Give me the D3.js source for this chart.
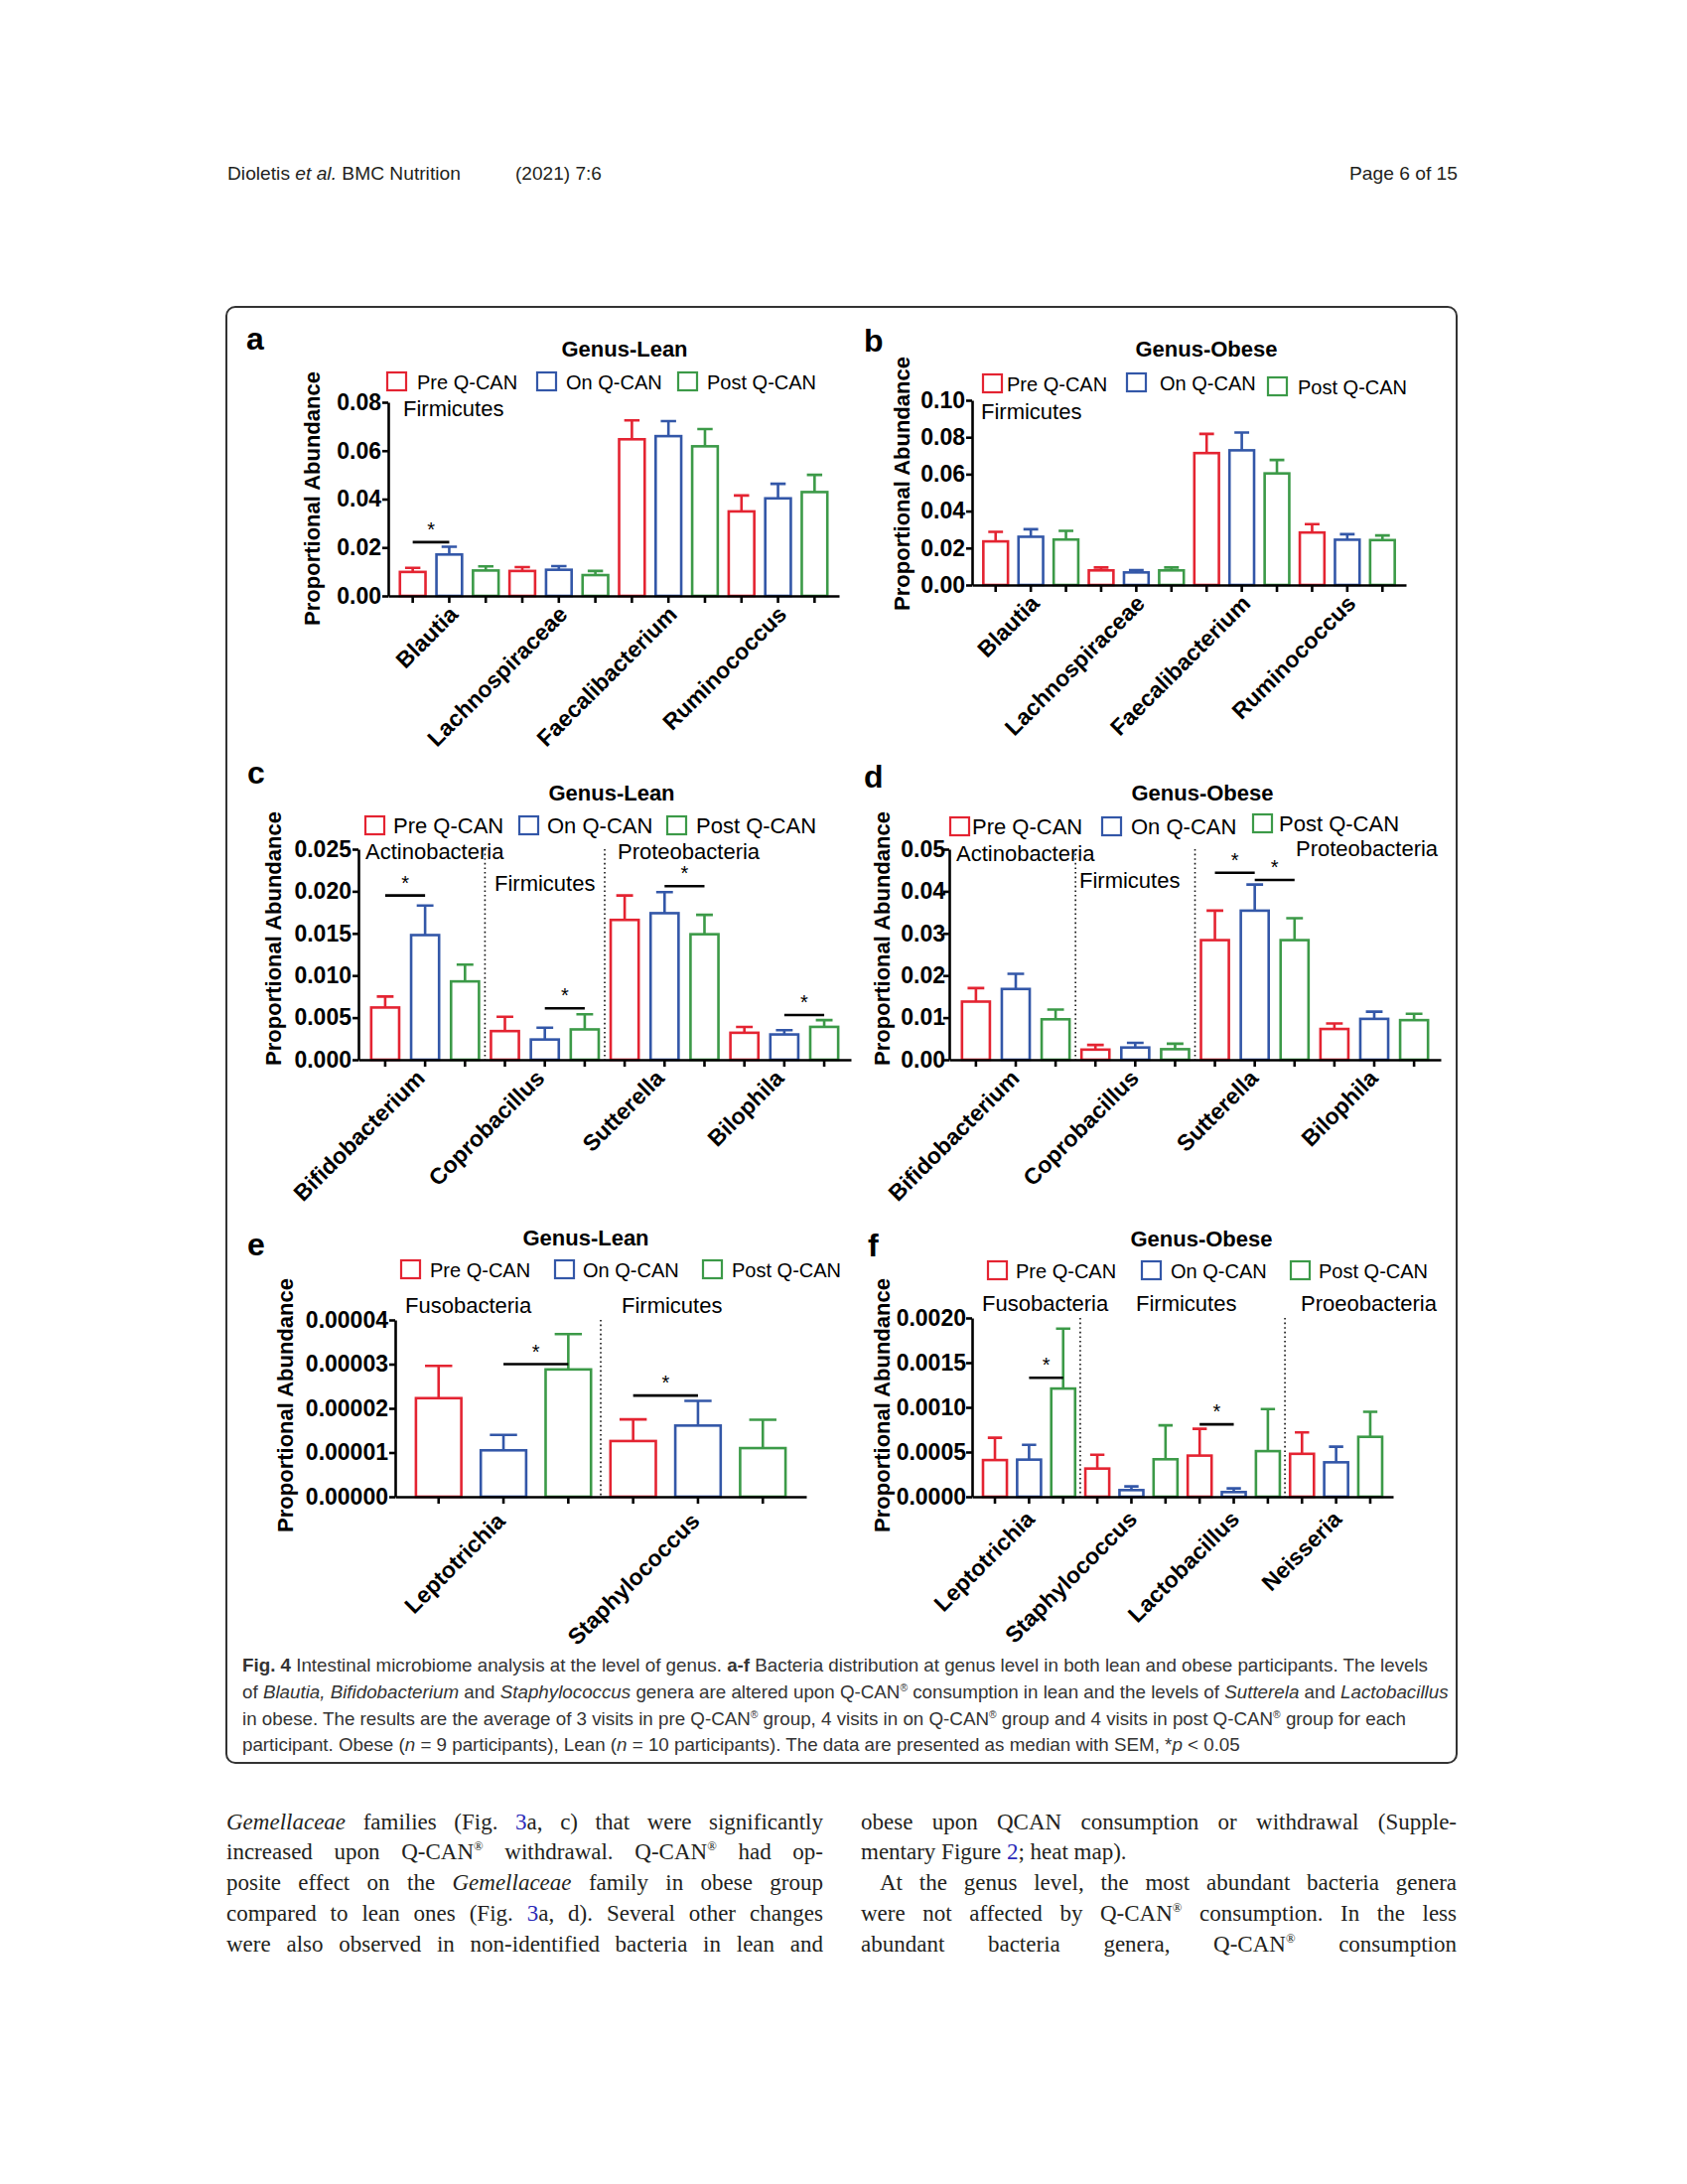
<!DOCTYPE html>
<html>
<head>
<meta charset="utf-8">
<style>
body { margin: 0; background: #fff; }
svg { display: block; }
text { font-family: "Liberation Sans", Arial, sans-serif; }
</style>
<script src="https://d3js.org/d3.v7.min.js"></script>
</head>
<body>
<svg id="page" width="1699" height="2199"></svg>
<script>
const series = ["Pre Q-CAN", "On Q-CAN", "Post Q-CAN"];
const seriesColors = ["#e42432", "#3357a8", "#3c9a48"];

// a - lean, Firmicutes
const aGenera = ["Blautia", "Lachnospiraceae", "Faecalibacterium", "Ruminococcus"];
const aPhylum = ["Firmicutes", "Firmicutes", "Firmicutes", "Firmicutes"];
const aMedian = [[0.0099, 0.0171, 0.0105], [0.0103, 0.0108, 0.0086], [0.0647, 0.0660, 0.0618], [0.0349, 0.0403, 0.0429]];
const aSem = [[0.0017, 0.0032, 0.0017], [0.0016, 0.0015, 0.0017], [0.0078, 0.0062, 0.0071], [0.0066, 0.0060, 0.0071]];
const aSig = [[0, 0, 1, 0.0222]];
const aTicks = ["0.00", "0.02", "0.04", "0.06", "0.08"];

// b - obese, Firmicutes
const bGenera = ["Blautia", "Lachnospiraceae", "Faecalibacterium", "Ruminococcus"];
const bPhylum = ["Firmicutes", "Firmicutes", "Firmicutes", "Firmicutes"];
const bMedian = [[0.0236, 0.0261, 0.0246], [0.0079, 0.0068, 0.0079], [0.0714, 0.0729, 0.0604], [0.0284, 0.0245, 0.0243]];
const bSem = [[0.0052, 0.0041, 0.0047], [0.0016, 0.0012, 0.0016], [0.0104, 0.0096, 0.0073], [0.0045, 0.0030, 0.0025]];
const bSig = [];
const bTicks = ["0.00", "0.02", "0.04", "0.06", "0.08", "0.10"];

// c - lean
const cGenera = ["Bifidobacterium", "Coprobacillus", "Sutterella", "Bilophila"];
const cPhylum = ["Actinobacteria", "Firmicutes", "Proteobacteria", "Proteobacteria"];
const cMedian = [[0.0062, 0.0148, 0.0093], [0.0034, 0.0024, 0.0036], [0.0166, 0.0174, 0.0149], [0.0032, 0.0030, 0.0039]];
const cSem = [[0.0013, 0.0035, 0.0020], [0.0017, 0.0014, 0.0018], [0.0029, 0.0025, 0.0023], [0.0007, 0.0005, 0.0008]];
const cSig = [[0, 0, 1, 0.0195], [1, 1, 2, 0.0061], [2, 1, 2, 0.0206], [3, 1, 2, 0.0053]];
const cTicks = ["0.000", "0.005", "0.010", "0.015", "0.020", "0.025"];

// d - obese
const dGenera = ["Bifidobacterium", "Coprobacillus", "Sutterella", "Bilophila"];
const dPhylum = ["Actinobacteria", "Firmicutes", "Proteobacteria", "Proteobacteria"];
const dMedian = [[0.0138, 0.0168, 0.0096], [0.0024, 0.0029, 0.0025], [0.0284, 0.0354, 0.0284], [0.0073, 0.0097, 0.0094]];
const dSem = [[0.0032, 0.0036, 0.0023], [0.0011, 0.0011, 0.0013], [0.0070, 0.0062, 0.0052], [0.0013, 0.0017, 0.0015]];
const dSig = [[2, 0, 1, 0.0444], [2, 1, 2, 0.0427]];
const dTicks = ["0.00", "0.01", "0.02", "0.03", "0.04", "0.05"];

// e - lean
const eGenera = ["Leptotrichia", "Staphylococcus"];
const ePhylum = ["Fusobacteria", "Firmicutes"];
const eMedian = [[0.0000223, 0.0000105, 0.0000288], [0.0000126, 0.0000161, 0.0000110]];
const eSem = [[0.0000073, 0.0000035, 0.0000080], [0.0000049, 0.0000056, 0.0000064]];
const eSig = [[0, 1, 2, 0.0000300], [1, 0, 1, 0.0000229]];
const eTicks = ["0.00000", "0.00001", "0.00002", "0.00003", "0.00004"];

// f - obese
const fGenera = ["Leptotrichia", "Staphylococcus", "Lactobacillus", "Neisseria"];
const fPhylum = ["Fusobacteria", "Firmicutes", "Firmicutes", "Proeobacteria"];
const fMedian = [[0.00041, 0.000415, 0.00121], [0.000315, 0.000074, 0.000419], [0.00046, 0.000052, 0.00051], [0.00048, 0.000385, 0.00067]];
const fSem = [[0.00025, 0.000165, 0.00067], [0.000155, 0.000041, 0.00038], [0.00030, 0.000041, 0.00047], [0.00024, 0.000175, 0.00028]];
const fSig = [[0, 1, 2, 0.00133], [2, 0, 1, 0.00081]];
const fTicks = ["0.0000", "0.0005", "0.0010", "0.0015", "0.0020"];

const panels = [
  { id: "a", title: "Genus-Lean", genera: aGenera, phylum: aPhylum, median: aMedian, sem: aSem, sig: aSig, ticks: aTicks },
  { id: "b", title: "Genus-Obese", genera: bGenera, phylum: bPhylum, median: bMedian, sem: bSem, sig: bSig, ticks: bTicks },
  { id: "c", title: "Genus-Lean", genera: cGenera, phylum: cPhylum, median: cMedian, sem: cSem, sig: cSig, ticks: cTicks },
  { id: "d", title: "Genus-Obese", genera: dGenera, phylum: dPhylum, median: dMedian, sem: dSem, sig: dSig, ticks: dTicks },
  { id: "e", title: "Genus-Lean", genera: eGenera, phylum: ePhylum, median: eMedian, sem: eSem, sig: eSig, ticks: eTicks },
  { id: "f", title: "Genus-Obese", genera: fGenera, phylum: fPhylum, median: fMedian, sem: fSem, sig: fSig, ticks: fTicks }
];

// where each panel sits on the page
const layout = {
  a: { x0: 391, x1: 845, y0: 600, yTop: 405, tickPad: 1, lab: [10, 20], letter: [248, 352], title: [629, 359], legSq: [390, 541, 683], legTx: [420, 570, 712], legY: [392, 392, 392], legSize: 20, phylumPos: [[406, 419]], yTitle: [314, 502] },
  b: { x0: 979, x1: 1416, y0: 589, yTop: 403, tickPad: 1, lab: [10, 20], letter: [870, 354], title: [1215, 359], legSq: [990, 1135, 1277], legTx: [1014, 1168, 1307], legY: [394, 393, 397], legSize: 20, phylumPos: [[988, 422]], yTitle: [908, 487] },
  c: { x0: 361, x1: 857, y0: 1067, yTop: 855, tickPad: 1, lab: [1, 20], letter: [249, 789], title: [616, 806], legSq: [368, 523, 672], legTx: [396, 551, 701], legY: [839, 839, 839], legSize: 22, phylumPos: [[368, 865], [498, 897], [622, 865]], yTitle: [275, 945] },
  d: { x0: 956, x1: 1451, y0: 1067, yTop: 855, tickPad: -2, lab: [5, 20], letter: [870, 793], title: [1211, 806], legSq: [957, 1110, 1262], legTx: [979, 1139, 1288], legY: [840, 840, 837], legSize: 22, phylumPos: [[963, 867], [1087, 894], [1305, 862]], yTitle: [888, 945] },
  e: { x0: 398, x1: 812, y0: 1507, yTop: 1329, tickPad: 1, lab: [3, 26], letter: [249, 1264], title: [590, 1254], legSq: [404, 559, 708], legTx: [433, 587, 737], legY: [1286, 1286, 1286], legSize: 20, phylumPos: [[408, 1322], [626, 1322]], yTitle: [287, 1415] },
  f: { x0: 979, x1: 1403, y0: 1507, yTop: 1327, tickPad: 0, lab: [7, 24], letter: [874, 1265], title: [1210, 1255], legSq: [995, 1150, 1300], legTx: [1023, 1179, 1328], legY: [1287, 1287, 1287], legSize: 20, phylumPos: [[989, 1320], [1144, 1320], [1310, 1320]], yTitle: [888, 1415] }
};

const headerParts = [
  { parts: ["Dioletis ", ["et al.", "i"], " BMC Nutrition"], x: 229, w: 235 },
  { parts: ["(2021) 7:6"], x: 519, w: 87 },
  { parts: ["Page 6 of 15"], x: 1359, w: 109 }
];

const captionLines = [
  [["Fig. 4", "b"], " Intestinal microbiome analysis at the level of genus. ", ["a-f", "b"], " Bacteria distribution at genus level in both lean and obese participants. The levels"],
  ["of ", ["Blautia, Bifidobacterium", "i"], " and ", ["Staphylococcus", "i"], " genera are altered upon Q-CAN", ["®", "s"], " consumption in lean and the levels of ", ["Sutterela", "i"], " and ", ["Lactobacillus", "i"]],
  ["in obese. The results are the average of 3 visits in pre Q-CAN", ["®", "s"], " group, 4 visits in on Q-CAN", ["®", "s"], " group and 4 visits in post Q-CAN", ["®", "s"], " group for each"],
  ["participant. Obese (", ["n", "i"], " = 9 participants), Lean (", ["n", "i"], " = 10 participants). The data are presented as median with SEM, *", ["p", "i"], " < 0.05"]
];

const leftColumn = [
  [["Gemellaceae", "i"], " families (Fig. ", ["3", "l"], "a, c) that were significantly"],
  ["increased upon Q-CAN", ["®", "s"], " withdrawal. Q-CAN", ["®", "s"], " had op-"],
  ["posite effect on the ", ["Gemellaceae", "i"], " family in obese group"],
  ["compared to lean ones (Fig. ", ["3", "l"], "a, d). Several other changes"],
  ["were also observed in non-identified bacteria in lean and"]
];
const rightColumn = [
  { parts: ["obese upon QCAN consumption or withdrawal (Supple-"], indent: 0, justify: true },
  { parts: ["mentary Figure ", ["2", "l"], "; heat map)."], indent: 0, justify: false },
  { parts: ["At the genus level, the most abundant bacteria genera"], indent: 19, justify: true },
  { parts: ["were not affected by Q-CAN", ["®", "s"], " consumption. In the less"], indent: 0, justify: true },
  { parts: ["abundant bacteria genera, Q-CAN", ["®", "s"], " consumption"], indent: 0, justify: true }
];

const svg = d3.select("#page");
svg.append("rect").attr("width", 1699).attr("height", 2199).attr("fill", "#fff");

function richText(parent, parts, size, family, fill) {
  const t = parent.append("text")
    .attr("font-size", size)
    .attr("fill", fill)
    .style("font-family", family);
  parts.forEach(p => {
    const str = Array.isArray(p) ? p[0] : p;
    const st = Array.isArray(p) ? p[1] : "";
    const ts = t.append("tspan").text(str);
    if (st.includes("b")) ts.attr("font-weight", "bold");
    if (st.includes("i")) ts.attr("font-style", "italic");
    if (st.includes("l")) ts.attr("fill", "#2a2ab8");
    if (st.includes("s")) ts.attr("font-size", size * 0.55).attr("baseline-shift", size * 0.38);
  });
  return t;
}

// page header
headerParts.forEach(h => {
  const t = richText(svg, h.parts, 18, "'Liberation Sans', Arial, sans-serif", "#231f20");
  const w = t.node().getComputedTextLength();
  t.attr("transform", `translate(${h.x},181) scale(${h.w / w},1)`);
});

// figure frame
svg.append("rect")
  .attr("x", 228).attr("y", 309).attr("width", 1239).attr("height", 1466)
  .attr("rx", 9).attr("fill", "none").attr("stroke", "#333").attr("stroke-width", 2);

function drawPanel(p) {
  const L = layout[p.id];
  const g = svg.append("g");
  const bars = [];
  p.genera.forEach((gen, gi) => series.forEach((s, si) => {
    bars.push({ gi, si, key: gi * 3 + si, v: p.median[gi][si], e: p.sem[gi][si] });
  }));

  const x = d3.scaleBand()
    .domain(d3.range(bars.length))
    .range([L.x0, L.x1])
    .paddingInner(0.3)
    .paddingOuter(0.32);
  const bw = x.bandwidth();
  const cx = k => x(k) + bw / 2;
  const y = d3.scaleLinear()
    .domain([0, +p.ticks[p.ticks.length - 1]])
    .range([L.y0, L.yTop]);

  // dotted dividers between phyla
  for (let gi = 1; gi < p.genera.length; gi++) {
    if (p.phylum[gi] !== p.phylum[gi - 1]) {
      const xb = (x(gi * 3 - 1) + bw + x(gi * 3)) / 2;
      g.append("line")
        .attr("x1", xb).attr("x2", xb).attr("y1", L.yTop).attr("y2", L.y0)
        .attr("stroke", "#111").attr("stroke-width", 1.6).attr("stroke-dasharray", "1.6,3");
    }
  }

  // bars
  g.selectAll("rect.bar").data(bars).join("rect")
    .attr("class", "bar")
    .attr("x", b => x(b.key)).attr("width", bw)
    .attr("y", b => y(b.v)).attr("height", b => L.y0 - y(b.v))
    .attr("fill", "#fff")
    .attr("stroke", b => seriesColors[b.si]).attr("stroke-width", 2.6);

  // error bars (upper SEM only)
  g.selectAll("path.err").data(bars).join("path")
    .attr("class", "err")
    .attr("d", b => {
      const c = cx(b.key), top = y(b.v + b.e), hw = bw * 0.3;
      return `M${c},${y(b.v)}V${top}M${c - hw},${top}H${c + hw}`;
    })
    .attr("fill", "none")
    .attr("stroke", b => seriesColors[b.si]).attr("stroke-width", 2.6);

  // axes
  const yAxis = g.append("g")
    .attr("transform", `translate(${L.x0},0)`)
    .call(d3.axisLeft(y)
      .tickValues(p.ticks.map(Number))
      .tickFormat((v, i) => p.ticks[i])
      .tickSize(6).tickSizeOuter(0).tickPadding(L.tickPad));
  const xAxis = g.append("g")
    .attr("transform", `translate(0,${L.y0})`)
    .call(d3.axisBottom(x).tickSize(7).tickSizeOuter(0).tickFormat(""));
  [yAxis, xAxis].forEach(a => {
    a.attr("color", "#000");
    a.selectAll("path, line").attr("stroke-width", 2.6);
  });
  yAxis.selectAll("text").attr("font-size", 23).attr("font-weight", "bold").attr("fill", "#000");

  // genus labels, under the middle bar of each group
  p.genera.forEach((gen, gi) => {
    g.append("text")
      .attr("transform", `translate(${cx(gi * 3 + 1) + L.lab[0]},${L.y0 + L.lab[1]}) rotate(-45)`)
      .attr("text-anchor", "end")
      .attr("font-size", 23).attr("font-weight", "bold")
      .text(gen);
  });

  // significance
  p.sig.forEach(([gi, a, b, h]) => {
    const xa = cx(gi * 3 + a), xb = cx(gi * 3 + b), yy = y(h);
    g.append("line").attr("x1", xa).attr("x2", xb).attr("y1", yy).attr("y2", yy)
      .attr("stroke", "#000").attr("stroke-width", 2.6);
    g.append("text").attr("x", (xa + xb) / 2).attr("y", yy - 6)
      .attr("text-anchor", "middle").attr("font-size", 20).text("*");
  });

  // phylum labels
  const phyla = [...new Set(p.phylum)];
  phyla.forEach((ph, i) => {
    g.append("text").attr("x", L.phylumPos[i][0]).attr("y", L.phylumPos[i][1])
      .attr("font-size", 22).text(ph);
  });

  // legend
  series.forEach((s, i) => {
    g.append("rect")
      .attr("x", L.legSq[i]).attr("y", L.legY[i] - 17).attr("width", 19).attr("height", 18)
      .attr("fill", "none").attr("stroke", seriesColors[i]).attr("stroke-width", 2.2);
    g.append("text").attr("x", L.legTx[i]).attr("y", L.legY[i])
      .attr("font-size", L.legSize).text(s);
  });

  // titles
  g.append("text").attr("x", L.title[0]).attr("y", L.title[1])
    .attr("text-anchor", "middle").attr("font-size", 22).attr("font-weight", "bold").text(p.title);
  g.append("text").attr("x", L.letter[0]).attr("y", L.letter[1])
    .attr("font-size", 32).attr("font-weight", "bold").text(p.id);
  g.append("text")
    .attr("transform", `translate(${L.yTitle[0]},${L.yTitle[1]}) rotate(-90)`)
    .attr("text-anchor", "middle").attr("dy", "0.36em")
    .attr("font-size", 22).attr("font-weight", "bold").text("Proportional Abundance");
}

panels.forEach(drawPanel);

// caption, one common horizontal squeeze
const capBase = [1683, 1710, 1737, 1763];
const capTexts = captionLines.map(parts => richText(svg, parts, 19, "'Liberation Sans', Arial, sans-serif", "#333"));
const capK = 1195 / capTexts[0].node().getComputedTextLength();
capTexts.forEach((t, i) => t.attr("transform", `translate(244,${capBase[i]}) scale(${capK},1)`));

// body text, two justified columns
function bodyLine(parts, x, yb, target, justify) {
  const t = richText(svg, parts, 23, "'Liberation Serif', 'Times New Roman', serif", "#231f20");
  const w = t.node().getComputedTextLength();
  const spaces = (t.text().match(/ /g) || []).length;
  if (w > target) {
    t.attr("transform", `translate(${x},${yb}) scale(${target / w},1)`);
  } else {
    t.attr("transform", `translate(${x},${yb})`);
    if (justify && spaces) t.style("word-spacing", ((target - w) / spaces) + "px");
  }
}
const bodyBase = [1842, 1872, 1903, 1934, 1965];
leftColumn.forEach((parts, i) => bodyLine(parts, 228, bodyBase[i], 601, true));
rightColumn.forEach((r, i) => bodyLine(r.parts, 867 + r.indent, bodyBase[i], 600 - r.indent, r.justify));
</script>
</body>
</html>
